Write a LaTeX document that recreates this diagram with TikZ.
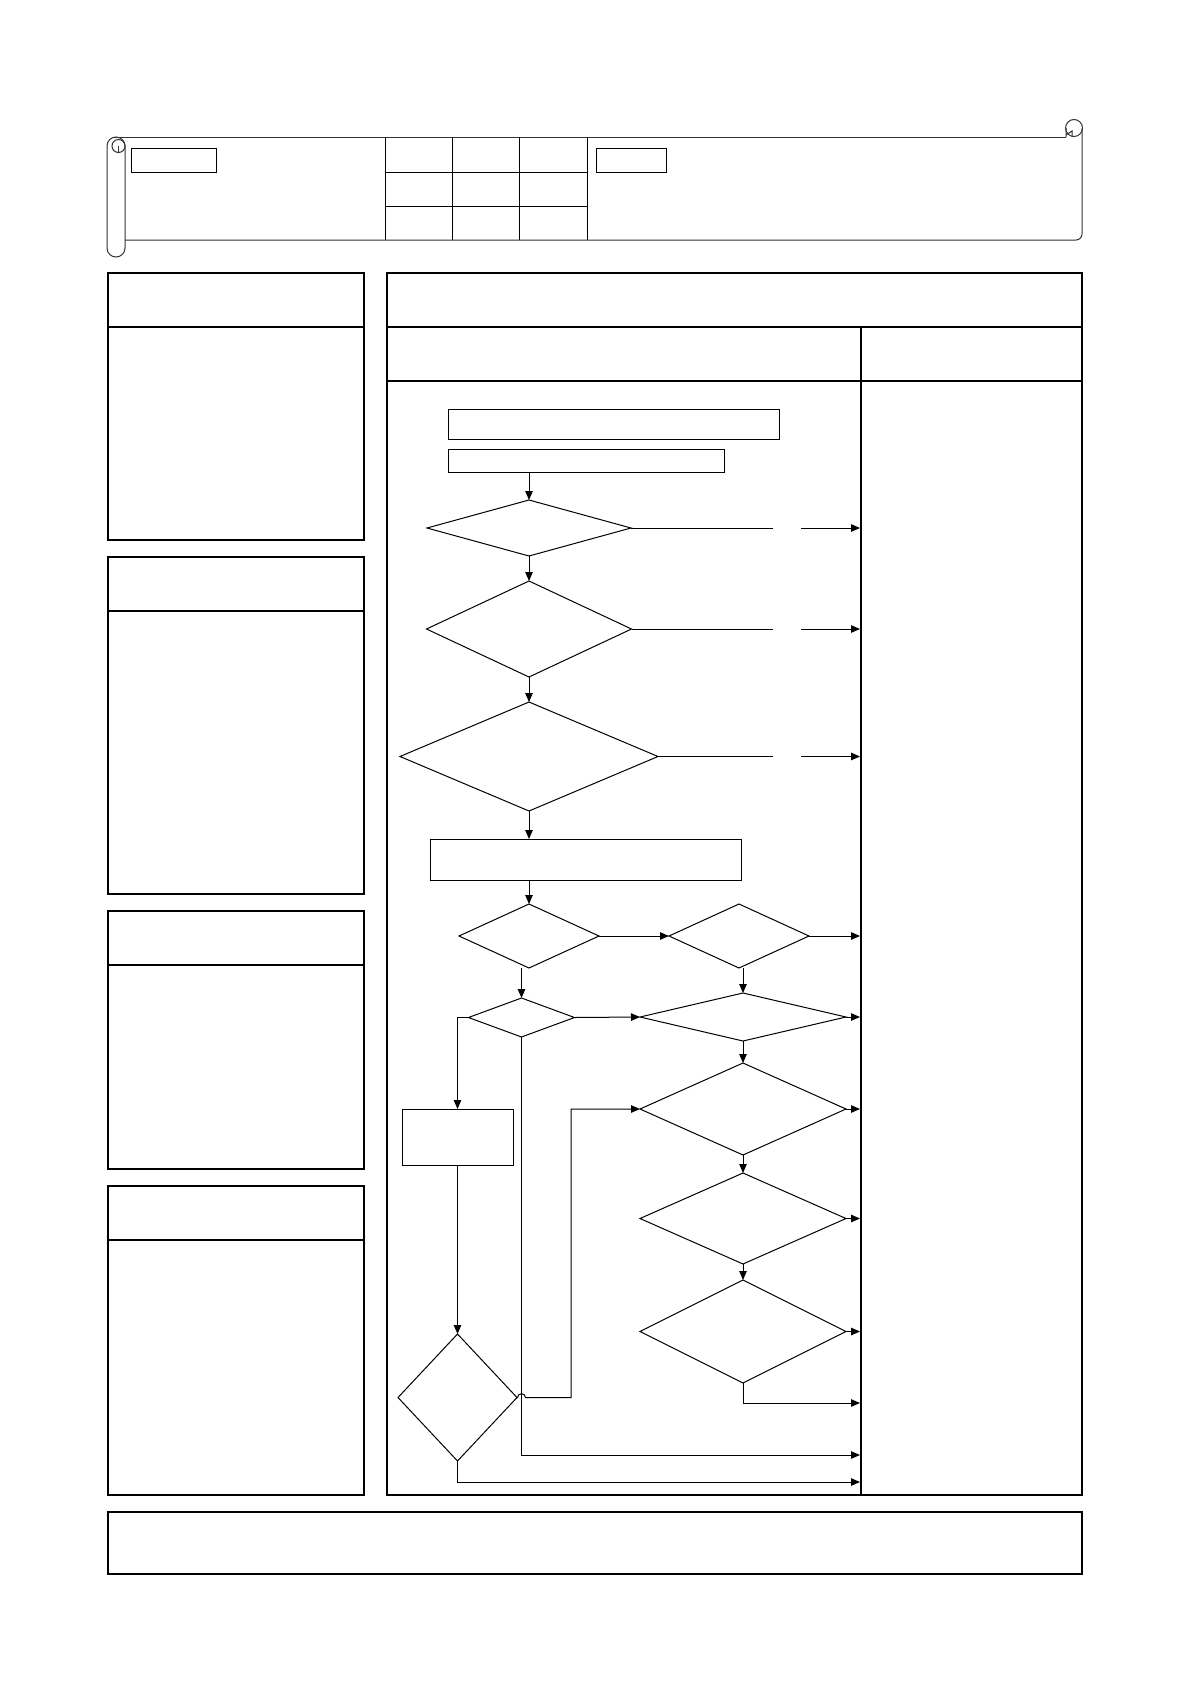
\documentclass[tikz,border=0pt]{standalone}
\usetikzlibrary{arrows.meta, shapes.geometric}
\begin{document}
\begin{tikzpicture}[x=1pt, y=-1pt, >={Triangle[length=9pt,width=7.5pt]}, line width=1pt,
    dia/.style={draw, diamond, inner sep=0pt, outer sep=0pt},
    blk/.style={draw, rectangle, inner sep=0pt, outer sep=0pt},
    frm/.style={line width=1.2pt}]
\useasboundingbox (0,0) rectangle (1191,1684);

\begin{scope}[draw=black!80]
\draw (115,137)--(1066,137);
\draw[rounded corners=6] (125,240)--(1082,240)--(1082,128);
\draw (1074,128) circle[radius=8.5];
\draw (1066,128)--(1066,137) (1066,135)--(1072,131)--(1072,137);
\draw[rounded corners=9] (107,137) rectangle (125,257);
\draw (118.5,146) circle[radius=6.5];
\draw (118.5,146)--(118.5,152.5);
\end{scope}
\foreach \x in {385,452,519,587}
    \draw (\x,137)--(\x,240);
\foreach \y in {172,206}
    \draw (385,\y)--(587,\y);
\draw (131,148) rectangle (216,172);
\draw (596,148) rectangle (666,172);

\foreach \t/\h/\b in {273/327/540, 557/611/894, 911/965/1169, 1186/1240/1495}
{
    \draw[frm] (108,\t) rectangle (364,\b);
    \draw[frm] (108,\h)--(364,\h);
}
\draw[frm] (387,273) rectangle (1082,1495);
\draw[frm] (387,327)--(1082,327) (387,381)--(1082,381) (861,327)--(861,1495);
\draw[frm] (108,1512) rectangle (1082,1574);

\node[blk, minimum width=331pt, minimum height=30pt] (r1) at (613.5,424) {};
\node[blk, minimum width=276pt, minimum height=23pt] (r2) at (586,460.5) {};
\node[dia, minimum width=204pt, minimum height=56pt] (q1) at (529,528) {};
\node[dia, minimum width=205pt, minimum height=96pt] (q2) at (529,629) {};
\node[dia, minimum width=258pt, minimum height=109pt] (q3) at (529,756.5) {};
\node[blk, minimum width=311pt, minimum height=41pt] (r3) at (585.5,859.5) {};
\node[dia, minimum width=140pt, minimum height=64pt] (q4) at (529,936) {};
\node[dia, minimum width=140pt, minimum height=64pt] (q5) at (739,936) {};
\node[dia, minimum width=106pt, minimum height=39pt] (q6) at (521.5,1017.5) {};
\node[dia, minimum width=206pt, minimum height=48pt] (q7) at (743,1017) {};
\node[dia, minimum width=206pt, minimum height=92pt] (q8) at (743,1109) {};
\node[dia, minimum width=206pt, minimum height=91pt] (q9) at (743,1218.5) {};
\node[dia, minimum width=206pt, minimum height=103pt] (q10) at (743,1331.5) {};
\node[blk, minimum width=111pt, minimum height=56pt] (r4) at (457.5,1137) {};
\node[dia, minimum width=119pt, minimum height=127pt] (q11) at (457.5,1397.5) {};

\coordinate (g1) at (773,0);
\coordinate (g2) at (801,0);
\coordinate (rx) at (860,0);
\coordinate (k) at (571,1397.5);
\coordinate (b1) at (860,1403);
\coordinate (b2) at (860,1455);
\coordinate (b3) at (860,1482);
\coordinate (hop) at (q6.south |- q11.east);

\draw[->] (q1 |- r2.south)--(q1.north);
\draw[->] (q1.south)--(q2.north);
\draw[->] (q2.south)--(q3.north);
\draw[->] (q3.south)--(q3.south |- r3.north);
\draw[->] (q4 |- r3.south)--(q4.north);
\draw[->] (q4.east)--(q5.west);
\draw[->] (q6 |- q4.south)--(q6.north);
\draw[->] (q7 |- q5.south)--(q7.north);
\draw[->] (q6.east)--(q7.west);
\draw[->] (q7.south)--(q8.north);
\draw[->] (q8.south)--(q9.north);
\draw[->] (q9.south)--(q10.north);
\draw[->] (q6.west)-|(r4.north);
\draw[->] (r4.south)--(q11.north);
\foreach \q in {q1,q2,q3}
{
    \draw (\q.east)--(\q.east -| g1);
    \draw[->] (\q.east -| g2)--(\q.east -| rx);
}
\foreach \q in {q5,q7,q8,q9,q10}
    \draw[->] (\q.east)--(\q.east -| rx);
\draw[->] (q10.south)|-(b1);
\draw[->] (q6.south)|-(b2);
\draw[->] (q11.south)|-(b3);
\draw[->] (q11.east)--([xshift=-4pt]hop) .. controls +(0,-5) and +(0,-5) .. ([xshift=4pt]hop)--(k)|-(q8.west);

\end{tikzpicture}
\end{document}
